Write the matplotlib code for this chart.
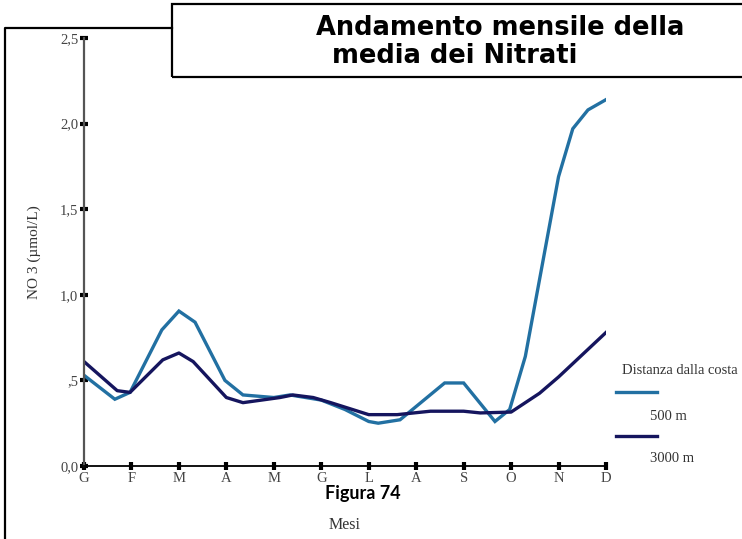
import matplotlib
matplotlib.use("Agg")
import matplotlib.pyplot as plt
from matplotlib.lines import Line2D
from matplotlib.patches import Rectangle

# month labels (Gen..Dic)
mesi = ['G', 'F', 'M', 'A', 'M', 'G', 'L', 'A', 'S', 'O', 'N', 'D']

# 500 m series (x in months from January)
x_500 = [0, 0.65, 0.97, 1.64, 2.0, 2.34, 2.97, 3.35, 4.0, 4.34, 5.0, 5.5,
         6.0, 6.2, 6.66, 7.6, 8.0, 8.66, 8.97, 9.3, 10.0, 10.3, 10.62, 11.0]
y_500 = [0.53, 0.39, 0.43, 0.795, 0.905, 0.84, 0.50, 0.415, 0.40, 0.415, 0.385, 0.33,
         0.26, 0.25, 0.27, 0.485, 0.485, 0.26, 0.33, 0.64, 1.69, 1.97, 2.08, 2.14]

# 3000 m series
x_3000 = [0, 0.7, 0.97, 1.66, 2.0, 2.3, 3.0, 3.35, 4.13, 4.4, 4.83, 5.2,
          6.0, 6.6, 7.3, 8.0, 8.35, 9.0, 9.6, 10.0, 11.0]
y_3000 = [0.61, 0.44, 0.43, 0.62, 0.66, 0.61, 0.40, 0.37, 0.40, 0.415, 0.40, 0.37,
          0.30, 0.30, 0.32, 0.32, 0.31, 0.315, 0.425, 0.52, 0.78]

yticks = [0.0, 0.5, 1.0, 1.5, 2.0, 2.5]
ytick_labels = ['0,0', ',5', '1,0', '1,5', '2,0', '2,5']

c500 = '#2270a2'
c3000 = '#15155e'
serif = 'Liberation Serif'

fig = plt.figure(figsize=(7.42, 5.39), dpi=100)
W, H = 742, 539

ax = fig.add_axes([84 / W, 1 - 466 / H, (606 - 84) / W, (466 - 38) / H])
ax.plot(x_500, y_500, color=c500, lw=2.4, solid_joinstyle='miter')
ax.plot(x_3000, y_3000, color=c3000, lw=2.4)

ax.set_xlim(0, 11)
ax.set_ylim(0, 2.5)
for s in ['top', 'right']:
    ax.spines[s].set_visible(False)
ax.spines['left'].set_color('#555555')
ax.spines['left'].set_linewidth(1.6)
ax.spines['bottom'].set_color('black')
ax.spines['bottom'].set_linewidth(1.3)

ax.set_xticks(range(12))
ax.set_xticklabels(mesi, fontfamily=serif, fontsize=10.5, color='#444444')
ax.set_yticks(yticks)
ax.set_yticklabels(ytick_labels, fontfamily=serif, fontsize=10.5, color='#444444')
ax.tick_params(axis='both', direction='inout', length=6, width=3, color='black')
ax.tick_params(axis='x', pad=1)
ax.tick_params(axis='y', pad=1)

ax.set_ylabel('NO 3 (µmol/L)', fontfamily=serif, fontsize=11, color='#333333', labelpad=14)
fig.text(345 / W, 1 - 525 / H, 'Mesi', fontfamily=serif, fontsize=11.5,
         color='#333333', ha='center', va='center')

fig.text(363 / W, 1 - 493 / H, 'Figura 74', fontfamily='Lato', fontweight='bold',
         fontsize=13, ha='center', va='center')

# legend drawn by hand
fig.text(622 / W, 1 - 370 / H, 'Distanza dalla costa', fontfamily=serif, fontsize=10.5,
         color='#333333', va='center')
fig.add_artist(Line2D([616 / W, 657 / W], [1 - 392 / H] * 2, color=c500, lw=2.4))
fig.text(650 / W, 1 - 416 / H, '500 m', fontfamily=serif, fontsize=10.5,
         color='#333333', va='center')
fig.add_artist(Line2D([616 / W, 657 / W], [1 - 436 / H] * 2, color=c3000, lw=2.4))
fig.text(650 / W, 1 - 459 / H, '3000 m', fontfamily=serif, fontsize=10.5,
         color='#333333', va='center')

# outer frame and title box
fig.add_artist(Line2D([5 / W, 5 / W, 172 / W], [0, 1 - 28 / H, 1 - 28 / H],
                      color='black', lw=1.6))
fig.add_artist(Rectangle((172 / W, 1 - 77 / H), (745 - 172) / W, (77 - 4) / H,
                         fill=False, edgecolor='black', lw=1.6, clip_on=False))
fig.text(500 / W, 1 - 28 / H, 'Andamento mensile della', fontfamily='DejaVu Sans',
         fontweight='bold', fontsize=18.5, ha='center', va='center')
fig.text(455 / W, 1 - 56 / H, 'media dei Nitrati', fontfamily='DejaVu Sans',
         fontweight='bold', fontsize=18.5, ha='center', va='center')

fig.savefig('out.png', dpi=100)
